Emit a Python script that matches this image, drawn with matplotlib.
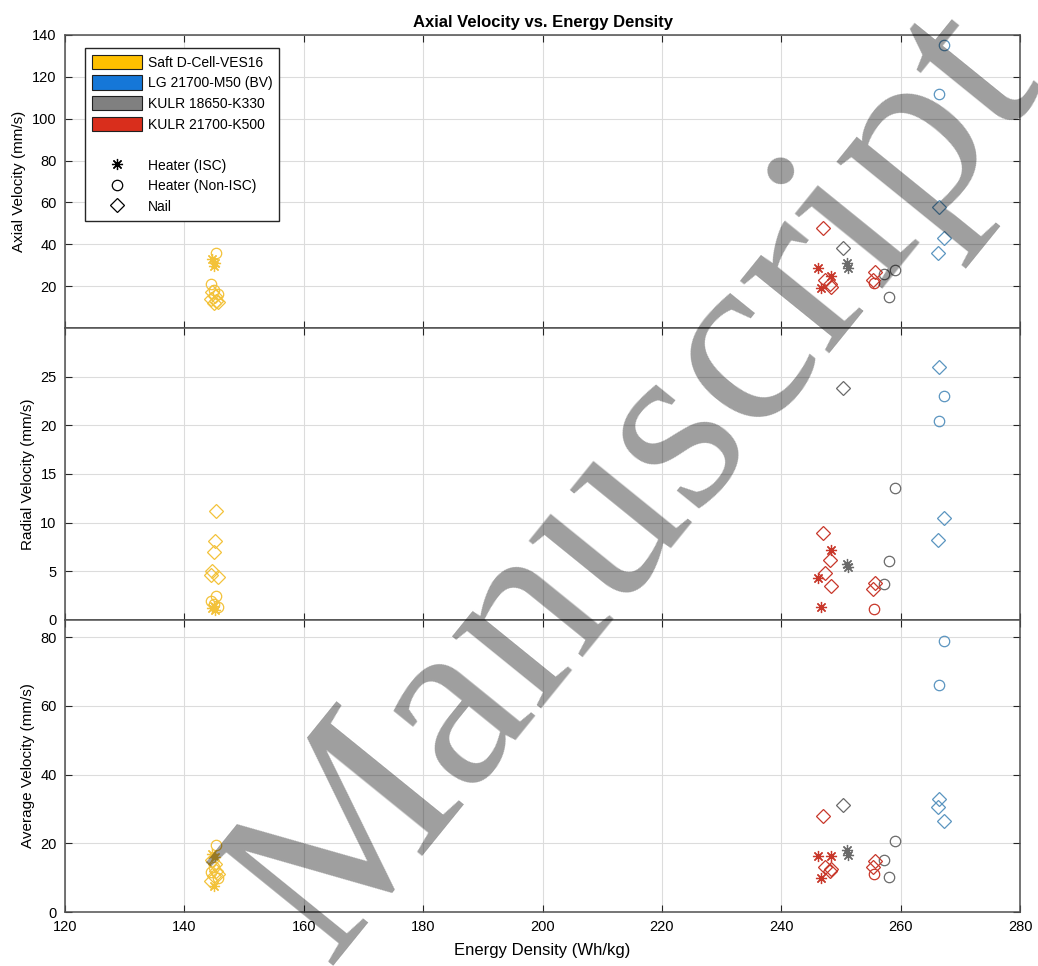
import matplotlib.pyplot as plt
from matplotlib.patches import Patch
from matplotlib.lines import Line2D

plt.rcParams['font.family'] = ['Liberation Sans', 'DejaVu Sans']

# marker codes: s = heater ISC (asterisk), o = heater non-ISC, d = nail
saft_x = [144.7, 145.2, 144.9, 145.3, 144.4, 145.0, 145.6, 145.3, 145.2, 145.0, 144.7, 144.5, 145.6]
saft_kind = ['s', 's', 's', 'o', 'o', 'o', 'o', 'd', 'd', 'd', 'd', 'd', 'd']
saft_axial = [33, 31, 29.5, 36, 21, 18, 16, 13, 15.5, 12, 17, 14, 12.5]
saft_radial = [1.2, 1.0, 1.4, 2.5, 1.9, 1.6, 1.3, 11.2, 8.1, 7.0, 5.0, 4.6, 4.4]
saft_avg = [17, 16, 7.5, 19.5, 11.5, 13, 10, 12, 14, 10.5, 15, 9, 11]

lg_x = [267.2, 266.4, 266.4, 267.2, 266.2]
lg_kind = ['o', 'o', 'd', 'd', 'd']
lg_axial = [135, 112, 57.6, 42.8, 35.7]
lg_radial = [23.0, 20.4, 26.0, 10.5, 8.2]
lg_avg = [79, 66, 33, 26.5, 30.5]

k330_x = [250.3, 251.0, 251.1, 259.0, 257.2, 258.0]
k330_kind = ['d', 's', 's', 'o', 'o', 'o']
k330_axial = [38, 31, 28.6, 27.6, 26, 14.8]
k330_radial = [23.8, 5.8, 5.4, 13.6, 3.7, 6.1]
k330_avg = [31.1, 18, 16.6, 20.6, 15.1, 10.2]

k500_x = [247.0, 246.1, 248.3, 246.7, 247.4, 248.2, 248.4, 255.7, 255.4, 255.5]
k500_kind = ['d', 's', 's', 's', 'd', 'd', 'd', 'd', 'd', 'o']
k500_axial = [47.6, 28.6, 25, 19, 22.8, 21, 19.5, 26.7, 22.8, 21.4]
k500_radial = [8.9, 4.3, 7.2, 1.3, 4.8, 6.2, 3.5, 3.8, 3.2, 1.1]
k500_avg = [27.9, 16.3, 16.3, 9.9, 13.1, 12, 12.5, 14.8, 13.1, 11]

names = ['Saft D-Cell-VES16', 'LG 21700-M50 (BV)', 'KULR 18650-K330', 'KULR 21700-K500']
patch_colors = ['#ffc000', '#1577d8', '#808080', '#d92e1c']
point_colors = ['#f3c23a', '#5b95c0', '#6a6a6a', '#c8372a']

groups = [
    (saft_x, saft_kind, [saft_axial, saft_radial, saft_avg]),
    (lg_x, lg_kind, [lg_axial, lg_radial, lg_avg]),
    (k330_x, k330_kind, [k330_axial, k330_radial, k330_avg]),
    (k500_x, k500_kind, [k500_axial, k500_radial, k500_avg]),
]

markers = {'s': dict(marker=(8, 2, 0), ms=8), 'o': dict(marker='o', ms=7.5), 'd': dict(marker='D', ms=7)}

fig = plt.figure(figsize=(10.38, 9.66), dpi=100)
left, width = 0.0626, 0.9201
bottoms = [0.6605, 0.3582, 0.0559]
heights = [0.3033, 0.3023, 0.3023]
ylabels = ['Axial Velocity (mm/s)', 'Radial Velocity (mm/s)', 'Average Velocity (mm/s)']
ylims = [(0, 140), (0, 30), (0, 85)]
yticks = [range(0, 141, 20), range(0, 26, 5), range(0, 81, 20)]

axes = []
for i in range(3):
    ax = fig.add_axes([left, bottoms[i], width, heights[i]])
    for (xs, kinds, ys), col in zip(groups, point_colors):
        for k in ['s', 'o', 'd']:
            px = [x for x, kk in zip(xs, kinds) if kk == k]
            py = [y for y, kk in zip(ys[i], kinds) if kk == k]
            ax.plot(px, py, ls='none', mfc='none', mec=col, mew=0.9, **markers[k])
    ax.set_xlim(120, 280)
    ax.set_ylim(*ylims[i])
    ax.set_yticks(list(yticks[i]))
    ax.set_xticks(range(120, 281, 20))
    ax.set_ylabel(ylabels[i], fontsize=11)
    ax.grid(True, color='#dcdcdc', lw=0.8)
    ax.set_axisbelow(True)
    ax.tick_params(direction='in', top=True, right=True, labelsize=10.5, color='#262626', length=5, pad=6)
    for s in ax.spines.values():
        s.set_color('#505050')
        s.set_linewidth(1.1)
    if i < 2:
        ax.tick_params(labelbottom=False)
    axes.append(ax)

axes[0].set_yticklabels([''] + [str(v) for v in range(20, 141, 20)])
axes[0].set_title('Axial Velocity vs. Energy Density', fontsize=12, fontweight='bold', pad=6)
axes[2].set_xlabel('Energy Density (Wh/kg)', fontsize=12, labelpad=6)

handles = [Patch(facecolor=c, edgecolor='#202020', lw=0.8) for c in patch_colors]
handles += [Line2D([], [], ls='none')]
handles += [Line2D([], [], ls='none', mfc='none', mec='k', mew=0.9, **markers[k]) for k in ['s', 'o', 'd']]
labels = names + [''] + ['Heater (ISC)', 'Heater (Non-ISC)', 'Nail']
axes[0].legend(handles, labels, loc='upper left', bbox_to_anchor=(0.021, 0.956), borderaxespad=0,
               fontsize=10, fancybox=False, edgecolor='#262626', framealpha=1, handlelength=3.6,
               handleheight=1.2, labelspacing=0.42, borderpad=0.5, handletextpad=0.4)

fig.text(0.315, 0.0, 'Manuscript', rotation=51, rotation_mode='anchor', ha='left', va='baseline',
         fontsize=180, family='Liberation Serif', color='k', alpha=0.38, zorder=10)

fig.savefig('out.png', dpi=100)
